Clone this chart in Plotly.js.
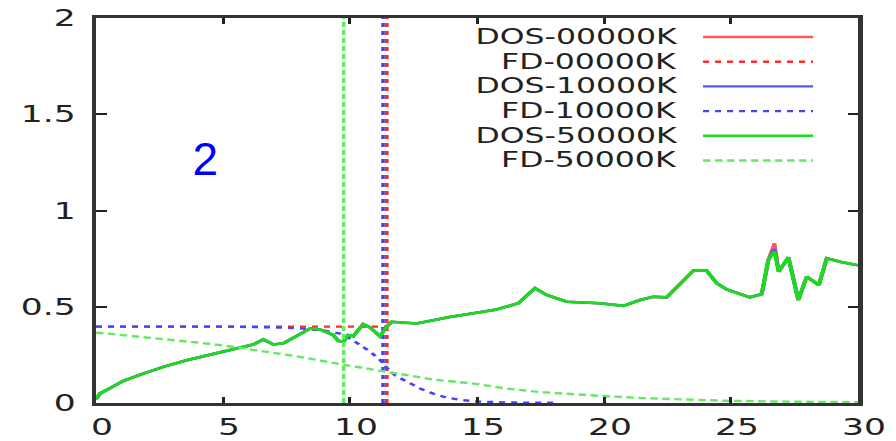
<!DOCTYPE html>
<html>
<head>
<meta charset="utf-8">
<script src="https://cdn.plot.ly/plotly-3.0.1.min.js"></script>
<style>
html,body{margin:0;padding:0;background:#fff;overflow:hidden;width:896px;height:441px}
#wrap{width:597.333px;height:441px;transform:scaleX(1.5);transform-origin:0 0}
</style>
</head>
<body>
<div id="wrap"></div>
<script>
// ---- data ----
const seriesNames = ["DOS-00000K", "FD-00000K", "DOS-10000K", "FD-10000K", "DOS-50000K", "FD-50000K"];
const seriesColors = ["#ff5a5a", "#ff2a2a", "#5555ff", "#4444ff", "#18dd18", "#66e866"];
const seriesDash = ["solid", "4px,4px", "solid", "4px,4px", "solid", "5px,3px"];

const dosX = [0, 0.16, 0.55, 1.08, 1.86, 2.78, 3.57, 4.62, 5.54, 6.19, 6.59, 6.98, 7.38, 7.77, 8.16, 8.43, 8.82, 9.34, 9.54, 9.74, 9.93, 10.13, 10.52, 10.79, 11.18, 11.44, 11.64, 12.62, 13.28, 13.87, 14.86, 15.77, 16.63, 16.96, 17.28, 17.74, 18.53, 19.84, 20.76, 21.42, 21.94, 22.47, 23.12, 23.52, 24.04, 24.44, 24.83, 25.75, 26.21, 26.47, 26.71, 26.88, 27.26, 27.48, 27.65, 27.98, 28.46, 28.77, 29.29, 30];
const dos50000K = [0.02, 0.05, 0.077, 0.115, 0.153, 0.193, 0.222, 0.254, 0.283, 0.304, 0.33, 0.304, 0.31, 0.34, 0.37, 0.387, 0.382, 0.353, 0.323, 0.318, 0.353, 0.347, 0.41, 0.393, 0.347, 0.396, 0.422, 0.413, 0.43, 0.445, 0.466, 0.486, 0.518, 0.561, 0.596, 0.561, 0.526, 0.518, 0.505, 0.535, 0.552, 0.549, 0.639, 0.688, 0.688, 0.622, 0.59, 0.549, 0.566, 0.743, 0.787, 0.682, 0.757, 0.622, 0.535, 0.656, 0.613, 0.752, 0.734, 0.715];
const dos10000K = [0.02, 0.05, 0.077, 0.115, 0.153, 0.193, 0.222, 0.254, 0.283, 0.304, 0.33, 0.304, 0.31, 0.34, 0.37, 0.387, 0.382, 0.353, 0.323, 0.318, 0.353, 0.347, 0.41, 0.393, 0.347, 0.396, 0.422, 0.413, 0.43, 0.445, 0.466, 0.486, 0.518, 0.561, 0.596, 0.561, 0.526, 0.518, 0.505, 0.535, 0.552, 0.549, 0.639, 0.688, 0.688, 0.622, 0.59, 0.549, 0.566, 0.743, 0.80, 0.682, 0.757, 0.622, 0.535, 0.656, 0.613, 0.752, 0.734, 0.715];
const dos00000K = [0.02, 0.05, 0.077, 0.115, 0.153, 0.193, 0.222, 0.254, 0.283, 0.304, 0.33, 0.304, 0.31, 0.34, 0.37, 0.387, 0.382, 0.353, 0.323, 0.318, 0.353, 0.347, 0.41, 0.393, 0.347, 0.396, 0.422, 0.413, 0.43, 0.445, 0.466, 0.486, 0.518, 0.561, 0.596, 0.561, 0.526, 0.518, 0.505, 0.535, 0.552, 0.549, 0.639, 0.688, 0.688, 0.622, 0.59, 0.549, 0.566, 0.743, 0.83, 0.682, 0.757, 0.622, 0.535, 0.656, 0.613, 0.752, 0.734, 0.715];

// Fermi-Dirac curves (with their Fermi-level vertical markers)
const fd00000X = [0, 11.45, null, 11.45, 11.45];
const fd00000Y = [0.397, 0.397, null, 0, 2.1];

const fd10000X = [0, 5, 7, 8, 9, 9.6, 10.07, 10.4, 10.8, 11.2, 11.44, 11.77, 12.23, 12.76, 13.28, 13.8, 14.46, 15, 16, 18, null, 11.3, 11.3];
const fd10000Y = [0.397, 0.397, 0.393, 0.388, 0.376, 0.361, 0.33, 0.30, 0.266, 0.222, 0.184, 0.144, 0.11, 0.075, 0.049, 0.028, 0.014, 0.008, 0.003, 0.001, null, 0, 2.1];

const fd50000X = [0, 0.42, 1.47, 2.78, 4.09, 5.4, 6.72, 8.03, 9.34, 10.66, 11.97, 13.28, 14.86, 16.17, 17.48, 18.79, 20.1, 21.42, 22.7, 24.7, 26.6, 30, null, 9.75, 9.75];
const fd50000Y = [0.365, 0.361, 0.347, 0.33, 0.313, 0.292, 0.266, 0.24, 0.208, 0.179, 0.149, 0.122, 0.101, 0.075, 0.057, 0.045, 0.035, 0.026, 0.019, 0.012, 0.008, 0.004, null, 0, 2.1];

const xTicks = [0, 5, 10, 15, 20, 25, 30];
const yTicks = [0, 0.5, 1, 1.5, 2];
const panelLabel = "2";

// ---- build ----
const xs = [dosX, fd00000X, dosX, fd10000X, dosX, fd50000X];
const ys = [dos00000K, fd00000Y, dos10000K, fd10000Y, dos50000K, fd50000Y];

const traces = seriesNames.map((n, i) => ({
  type: "scatter", mode: "lines", name: n, x: xs[i], y: ys[i],
  connectgaps: false, showlegend: false, cliponaxis: true,
  line: {color: seriesColors[i], width: i % 2 === 0 ? 2.6 : 2.4, dash: seriesDash[i]}
}));

const FONT = "DejaVu Sans, Liberation Sans, sans-serif";
const W = 597.333, H = 441;
const mL = 64, mR = 25.333, mT = 18, mB = 38;
const plotW = W - mL - mR, plotH = H - mT - mB;

// custom gnuplot-style key: text right-aligned, sample on its right
const annotations = [];
const shapes = [];
const keyTextX = (453.3 - mL) / plotW;
const keyLineX0 = (468.7 - mL) / plotW;
const keyLineX1 = (542 - mL) / plotW;
seriesNames.forEach((n, i) => {
  const py = 37 + i * 24.7;
  const yp = (H - mB - py) / plotH;
  annotations.push({
    xref: "paper", yref: "paper", x: keyTextX, y: yp, xanchor: "right", yanchor: "middle",
    text: n, showarrow: false, borderpad: 0, font: {family: FONT, size: 21, color: "#222"}
  });
  shapes.push({
    type: "line", xref: "paper", yref: "paper", x0: keyLineX0, x1: keyLineX1, y0: yp, y1: yp,
    line: {color: seriesColors[i], width: 2.4, dash: seriesDash[i]}
  });
});
annotations.push({
  xref: "x", yref: "y", x: 4.33, y: 1.265, xanchor: "center", yanchor: "middle",
  text: panelLabel, showarrow: false, font: {family: "Liberation Sans, Arial, sans-serif", size: 46, color: "#0000ff"}
});

const axisCommon = {
  showgrid: false, zeroline: false, showline: true, linewidth: 3, linecolor: "#333",
  mirror: "ticks", ticks: "inside", tickwidth: 2, tickcolor: "#222",
  tickfont: {family: FONT, size: 23, color: "#222"}
};

const layout = {
  width: W, height: H,
  margin: {l: mL, r: mR, t: mT, b: mB, pad: 0},
  paper_bgcolor: "#fff", plot_bgcolor: "#fff",
  showlegend: false,
  xaxis: Object.assign({}, axisCommon, {range: [0, 30], tickvals: xTicks, ticktext: xTicks.map(String), ticklen: 6, ticklabelstandoff: 1, ticklabelshift: 4}),
  yaxis: Object.assign({}, axisCommon, {range: [0, 2], tickvals: yTicks, ticktext: yTicks.map(String), ticklen: 7, ticklabelstandoff: 6}),
  annotations: annotations,
  shapes: shapes
};

Plotly.newPlot("wrap", traces, layout, {staticPlot: true, displayModeBar: false}).then(() => {
  document.querySelectorAll("#wrap .annotation-text").forEach(t => {
    if (t.textContent === panelLabel) {
      t.style.transformBox = "fill-box";
      t.style.transformOrigin = "center";
      t.style.transform = "scaleX(0.6667)";
    }
  });
});
</script>
</body>
</html>
